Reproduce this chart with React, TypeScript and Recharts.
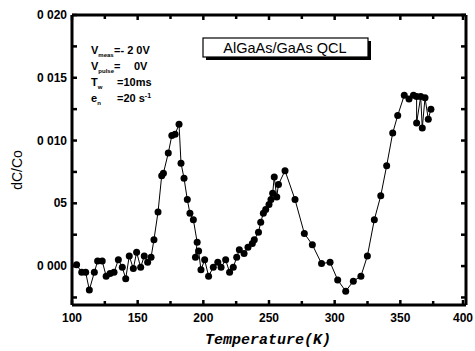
import React from 'react';
import { LineChart, Line, XAxis, YAxis } from 'recharts';

// temperature (K) and dC/C0
const temps = [
  103.5, 107.4, 110.4, 113.2, 117, 119.5, 123, 126, 129, 132,
  135.3, 138.3, 140.9, 143.6, 146.7, 149.2, 152.3, 155, 157.6, 160.2,
  162.4, 165.5, 168.3, 169.6, 173.3, 176, 178.5, 181.5, 183, 185.3,
  187.8, 189.8, 192.4, 195.3, 194, 196.4, 198.2, 201, 204, 207.6,
  211, 213.5, 217, 220, 222.8, 225.4, 227.4, 231, 234, 237.3,
  238.8, 242, 243.7, 245.7, 247.5, 250, 251.5, 252.8, 254, 255.9,
  257.2, 262.2, 269.8, 276.9, 283, 290, 296.5, 302.3, 308.4, 314.2,
  320, 324.9, 330.2, 335.1, 339.6, 344.2, 348, 353, 356.6, 360,
  362.4, 362.4, 365.5, 366.7, 368.8, 371.3, 373.3,
];
const dcValues = [
  0.0001, -0.0005, -0.0005, -0.0019, -0.0005, 0.0004, 0.0004, -0.0008, -0.0006, -0.0005,
  0.0005, -0.0001, -0.001, 0.0008, -0.0002, 0.0011, -0.0001, 0.0008, 0.0003, 0.0007,
  0.0021, 0.0043, 0.0072, 0.0074, 0.009, 0.0104, 0.0105, 0.0113, 0.0082, 0.007,
  0.0053, 0.0042, 0.0037, 0.0019, 0.0007, 0.0012, -0.0003, 0.0005, -0.0008, -0.0001,
  0.0003, -0.0001, 0.0005, -0.0005, -0.0001, 0.0007, 0.0013, 0.001, 0.0015, 0.0018,
  0.0021, 0.0027, 0.0035, 0.0042, 0.0045, 0.0049, 0.0053, 0.0058, 0.0071, 0.0055,
  0.0065, 0.0076, 0.0053, 0.0026, 0.0017, 0.0002, 0.0003, -0.0011, -0.002, -0.0012,
  -0.0008, 0.0008, 0.0037, 0.0056, 0.008, 0.0106, 0.012, 0.0136, 0.0133, 0.0136,
  0.0135, 0.0114, 0.0135, 0.011, 0.0134, 0.0117, 0.0125,
];

const xTicks = [100, 125, 150, 175, 200, 225, 250, 275, 300, 325, 350, 375, 400];
const yTicks = [-0.0025, 0, 0.0025, 0.005, 0.0075, 0.01, 0.0125, 0.015, 0.0175, 0.02];
const yTickText = ['', '0 000', '', '05', '', '0 010', '', '0 015', '', '0 020'];

const data = temps.map((t, i) => ({ t, v: dcValues[i] }));

const FONT = '"Liberation Sans", Arial, sans-serif';

const yIndex = (v: number) => yTicks.findIndex((t) => Math.abs(t - v) < 1e-9);

const makeTick = (side: string) => (props: any) => {
  const { x, y, payload } = props;
  const v = payload.value;
  if (side === 'bottom' || side === 'top') {
    const major = v % 50 === 0;
    const len = major ? 5 : 4;
    const dir = side === 'bottom' ? -1 : 1;
    return (
      <g>
        <line x1={x} y1={y} x2={x} y2={y + dir * len} stroke="#000" strokeWidth={2.5} />
        {side === 'bottom' && major && (
          <text x={x} y={y + 17} textAnchor="middle" fontFamily={FONT} fontWeight="bold" fontSize={12} fill="#000">
            {v}
          </text>
        )}
      </g>
    );
  }
  const idx = yIndex(v);
  const dir = side === 'left' ? 1 : -1;
  const label = idx >= 0 ? yTickText[idx] : '';
  return (
    <g>
      <line x1={x} y1={y} x2={x + dir * 5} y2={y} stroke="#000" strokeWidth={2.5} />
      {side === 'left' && label && (
        <text x={x - 5} y={y + 4} textAnchor="end" fontFamily={FONT} fontWeight="bold" fontSize={12} fill="#000">
          {label}
        </text>
      )}
    </g>
  );
};

export default function App() {
  return (
    <div style={{ position: 'absolute', left: 0, top: 0, width: 475, height: 351, background: '#fff' }}>
      <LineChart width={475} height={351} data={data} margin={{ top: 14, right: 8, bottom: 0, left: 0 }}>
        <XAxis
          dataKey="t"
          type="number"
          domain={[100, 400]}
          ticks={xTicks}
          height={46}
          tickSize={0}
          tickMargin={0}
          tickLine={false}
          axisLine={{ stroke: '#000', strokeWidth: 3 }}
          tick={makeTick('bottom')}
          allowDataOverflow
        />
        <XAxis
          xAxisId="top"
          dataKey="t"
          orientation="top"
          type="number"
          domain={[100, 400]}
          ticks={xTicks}
          height={1}
          tickSize={0}
          tickMargin={0}
          tickLine={false}
          axisLine={{ stroke: '#000', strokeWidth: 3 }}
          tick={makeTick('top')}
          allowDataOverflow
        />
        <YAxis
          type="number"
          domain={[-0.0031, 0.02]}
          ticks={yTicks}
          width={72}
          tickSize={0}
          tickMargin={0}
          tickLine={false}
          axisLine={{ stroke: '#000', strokeWidth: 3 }}
          tick={makeTick('left')}
          allowDataOverflow
        />
        <YAxis
          yAxisId="right"
          orientation="right"
          type="number"
          domain={[-0.0031, 0.02]}
          ticks={yTicks}
          width={1}
          tickSize={0}
          tickMargin={0}
          tickLine={false}
          axisLine={{ stroke: '#000', strokeWidth: 3 }}
          tick={makeTick('right')}
          allowDataOverflow
        />
        {/* invisible series so the top and right frame axes get drawn */}
        <Line
          xAxisId="top"
          yAxisId="right"
          dataKey="v"
          stroke="none"
          dot={false}
          activeDot={false}
          isAnimationActive={false}
        />
        <Line
          type="linear"
          dataKey="v"
          stroke="#000"
          strokeWidth={1}
          dot={{ r: 3.5, fill: '#000', stroke: 'none' }}
          isAnimationActive={false}
        />
      </LineChart>
      <svg
        width={475}
        height={351}
        style={{ position: 'absolute', left: 0, top: 0, pointerEvents: 'none' }}
      >
        {/* parameter block */}
        <g fontFamily={FONT} fontWeight="bold" fontSize={11} fill="#000">
          <text x={91} y={54}>V<tspan fontSize={6} dy={3}>meas</tspan><tspan dy={-3} x={114}>=- 2 0V</tspan></text>
          <text x={91} y={70}>V<tspan fontSize={6} dy={3}>pulse</tspan><tspan dy={-3} x={114}>=</tspan><tspan x={134}>0V</tspan></text>
          <text x={91} y={86}>T<tspan fontSize={6} dy={3}>w</tspan><tspan dy={-3} x={117}>=10ms</tspan></text>
          <text x={91} y={102}>e<tspan fontSize={6} dy={3}>n</tspan><tspan dy={-3} x={117}>=20 s</tspan><tspan fontSize={7} dy={-4}>-1</tspan></text>
        </g>
        {/* title box */}
        <rect x={206} y={41} width={165} height={19} fill="#000" />
        <rect x={203} y={38} width={165} height={19} fill="#fff" stroke="#000" strokeWidth={1.2} />
        <text x={285} y={53} textAnchor="middle" fontFamily={FONT} fontSize={14.5} fill="#000">
          AlGaAs/GaAs QCL
        </text>
        {/* axis titles */}
        <text
          x={17}
          y={170}
          transform="rotate(-90 17 170)"
          textAnchor="middle"
          dominantBaseline="central"
          fontFamily={FONT}
          fontSize={14}
          fill="#000"
        >
          dC/Co
        </text>
        <text
          x={268}
          y={344}
          textAnchor="middle"
          fontFamily='"Liberation Mono", "DejaVu Sans Mono", monospace'
          fontWeight="bold"
          fontStyle="italic"
          fontSize={15}
          fill="#000"
        >
          Temperature(K)
        </text>
      </svg>
    </div>
  );
}
